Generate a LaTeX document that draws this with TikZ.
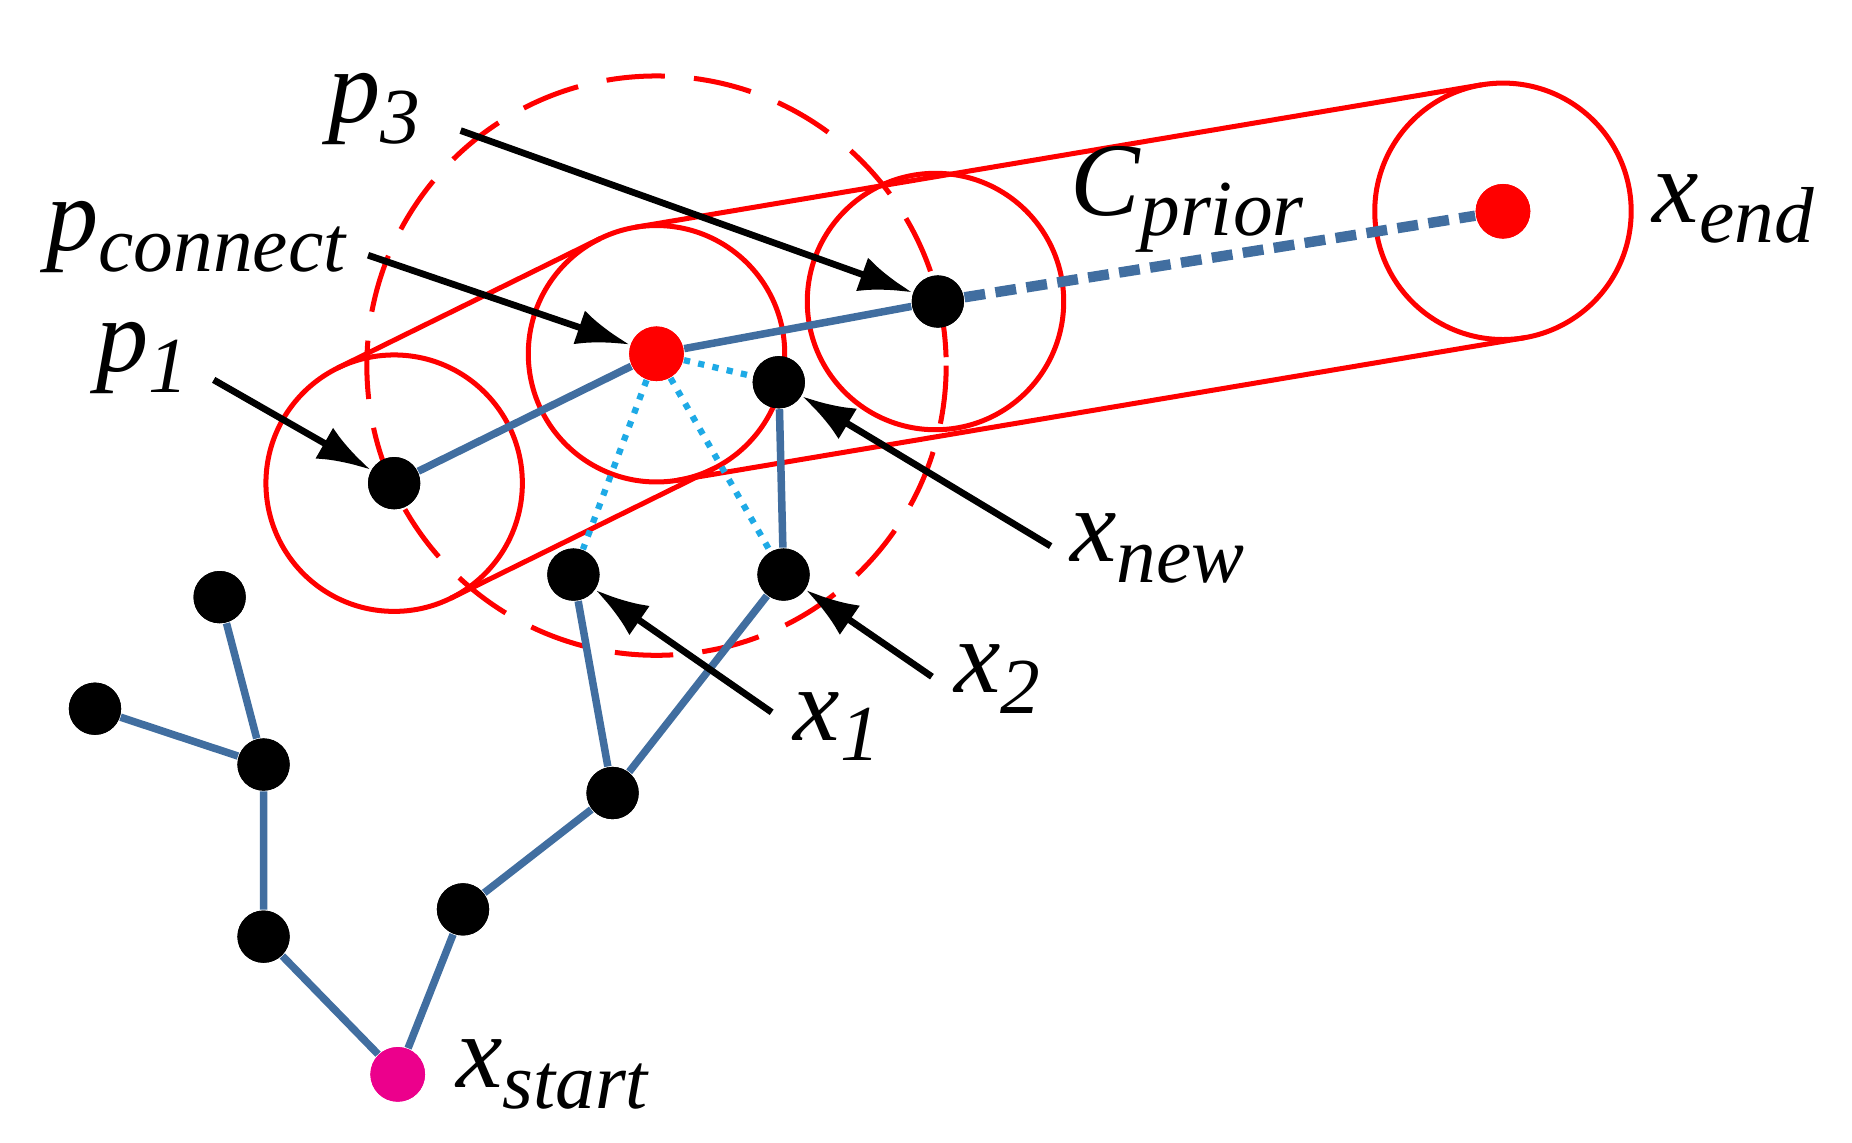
\documentclass[tikz,border=0pt]{standalone}
\usepackage{fontspec}
\setmainfont{Liberation Serif}
\usetikzlibrary{calc,arrows.meta}
\newcommand{\lbl}[2]{#1\raisebox{-0.2em}{\fontsize{19}{19}\selectfont #2}}
\begin{document}
\begin{tikzpicture}[x=0.01cm,y=-0.01cm,
  dot/.style={circle,fill=black,minimum size=0.44cm,inner sep=0},
  rdot/.style={circle,fill=red,minimum size=0.46cm,inner sep=0},
  edge/.style={line width=1.8pt,color={rgb,255:red,65;green,110;blue,160}},
  cedge/.style={color={rgb,255:red,30;green,170;blue,230},line width=1.5pt,dotted},
  ring/.style={draw=red,line width=1.2pt},
  arr/.style={-{Latex[length=0.45cm,width=0.3cm]},line width=1.6pt},
  lab/.style={font=\fontsize{25}{25}\selectfont\itshape,inner sep=0}]
\useasboundingbox (0,0) rectangle (1560,962);
\coordinate (c1) at (332,407);
\coordinate (c2) at (553,298);
\coordinate (c3) at (788,254);
\coordinate (c4) at (1266,178);
\draw[ring,dash pattern=on 14pt off 7pt] (553,308) circle[radius=244];
\foreach \c in {c1,c2,c3,c4} \draw[ring] (\c) circle[radius=108];
\draw[ring] ($(c1)!1.08cm!90:(c2)$) -- ($(c2)!1.08cm!-90:(c1)$);
\draw[ring] ($(c1)!1.08cm!-90:(c2)$) -- ($(c2)!1.08cm!90:(c1)$);
\draw[ring] ($(c2)!1.08cm!90:(c4)$) -- ($(c4)!1.08cm!-90:(c2)$);
\draw[ring] ($(c2)!1.08cm!-90:(c4)$) -- ($(c4)!1.08cm!90:(c2)$);
\node[dot] (p1) at (c1) {};
\node[rdot] (pc) at (c2) {};
\node[dot] (p3) at (790,254) {};
\node[rdot] (xe) at (c4) {};
\node[dot] (a) at (185,503) {};
\node[dot] (b) at (80,597) {};
\node[dot] (c) at (222,644) {};
\node[dot] (d) at (222,789) {};
\node[circle,fill=magenta,minimum size=0.46cm,inner sep=0] (xs) at (335,905) {};
\node[dot] (e) at (390,766) {};
\node[dot] (f) at (516,668) {};
\node[dot] (x1) at (483,484) {};
\node[dot] (x2) at (660,484) {};
\node[dot] (xn) at (656,322) {};
\draw[edge] (a)--(c) (b)--(c) (c)--(d) (d)--(xs) (xs)--(e) (e)--(f) (f)--(x1) (f)--(x2) (x2)--(xn) (p1)--(pc) (pc)--(p3);
\draw[cedge] (pc)--(x1) (pc)--(x2) (pc)--(xn);
\draw[edge,line width=2.5pt,dash pattern=on 5pt off 2.5pt] (p3)--(xe);
\foreach \n in {p1,p3,a,b,c,d,e,f,x1,x2,xn} \fill (\n) circle[radius=22];
\fill[red] (pc) circle[radius=23]; \fill[red] (xe) circle[radius=23];
\fill[magenta] (xs) circle[radius=23];
\node[lab] (lp3) at (315,92) {\lbl{p}{3}};
\node[lab] (lpc) at (165,200) {\lbl{p}{connect}};
\node[lab] (lp1) at (120,302) {\lbl{p}{1}};
\node[lab] (lxn) at (975,462) {\lbl{x}{new}};
\node[lab] (lx2) at (840,572) {\lbl{x}{2}};
\node[lab] (lx1) at (705,612) {\lbl{x}{1}};
\node[lab] (lcp) at (1000,168) {\lbl{C}{prior}};
\node[lab] (lxe) at (1460,176) {\lbl{x}{end}};
\node[lab] (lxs) at (465,905) {\lbl{x}{start}};
\coordinate (t3) at (388,110); \coordinate (tc) at (310,215); \coordinate (t1) at (180,320);
\coordinate (tn) at (885,460); \coordinate (t2) at (785,570); \coordinate (tx1) at (650,600);
\draw[arr] (t3)--(p3); \draw[arr] (tc)--(pc); \draw[arr] (t1)--(p1);
\draw[arr] (tn)--(xn); \draw[arr] (t2)--(x2); \draw[arr] (tx1)--(x1);
\end{tikzpicture}
\end{document}
